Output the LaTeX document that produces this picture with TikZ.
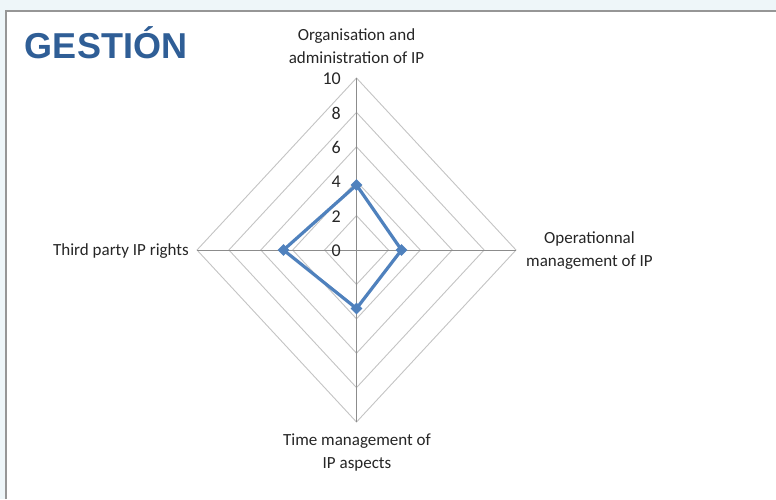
\documentclass[tikz,border=0pt]{standalone}
\usepackage{fontspec}
\setmainfont{Carlito}
\newfontfamily\titlefont{Liberation Sans}
\usetikzlibrary{shapes.geometric}
\definecolor{titleblue}{RGB}{47,94,150}
\definecolor{serieblue}{RGB}{79,129,189}
\definecolor{ringgray}{RGB}{196,196,196}
\definecolor{axisgray}{RGB}{140,140,140}
\definecolor{framegray}{RGB}{150,150,150}
\definecolor{bgtint}{RGB}{238,246,249}
\definecolor{txtgray}{RGB}{38,38,38}
\begin{document}
\begin{tikzpicture}[x=1pt,y=-1pt,
  ring/.style={draw=ringgray,line width=0.9pt},
  axisline/.style={draw=axisgray,line width=0.9pt},
  serie/.style={draw=serieblue,line width=3.2pt,line join=round},
  marker/.style={diamond,fill=serieblue,draw=none,minimum size=12pt,inner sep=0pt},
  catlabel/.style={font=\fontsize{17}{23}\selectfont,text=txtgray,align=center,inner sep=0pt},
  ticklabel/.style={font=\fontsize{18}{20}\selectfont,text=txtgray,anchor=east,inner sep=0pt}]
\useasboundingbox (0,0) rectangle (776,499);
\fill[bgtint] (0,0) rectangle (776,499);
\fill[white] (6,11) rectangle (776,499);
\draw[framegray,line width=1.6pt] (6,499) -- (6,11) -- (776,11);
% title
\node[font=\titlefont\bfseries\fontsize{36}{40}\selectfont,text=titleblue,inner sep=0pt] (title) at (106,43) {GESTIÓN};
% geometry
\coordinate (C) at (356.5,250);
\coordinate (N) at (356.5,78);
\coordinate (E) at (516,250);
\coordinate (S) at (356.5,422);
\coordinate (W) at (197,250);
\foreach \k in {2,4,6,8,10}{
  \draw[ring] (356.5,{250-17.2*\k}) -- ({356.5+15.95*\k},250) -- (356.5,{250+17.2*\k}) -- ({356.5-15.95*\k},250) -- cycle;
}
\draw[axisline] (C) -- (N);
\draw[axisline] (C) -- (E);
\draw[axisline] (C) -- (S);
\draw[axisline] (C) -- (W);
% tick labels
\foreach \k in {0,2,4,6,8,10}{
  \node[ticklabel] (t\k) at (341,{251-17.2*\k}) {\k};
}
% category labels
\node[catlabel] (labN) at (356.5,46) {Organisation and\\administration of IP};
\node[catlabel] (labE) at (589.5,251) {Operationnal\\management of IP};
\node[catlabel] (labS) at (357,453) {Time management of\\IP aspects};
\node[catlabel,anchor=east] (labW) at (189,251) {Third party IP rights};
% data series
\coordinate (P1) at (356.5,185);
\coordinate (P2) at (401.5,250);
\coordinate (P3) at (356.5,308.5);
\coordinate (P4) at (283.5,250);
\draw[serie] (P1) -- (P2) -- (P3) -- (P4) -- cycle;
\foreach \p in {P1,P2,P3,P4}{
  \node[marker] (m\p) at (\p) {};
}
\end{tikzpicture}
\end{document}
